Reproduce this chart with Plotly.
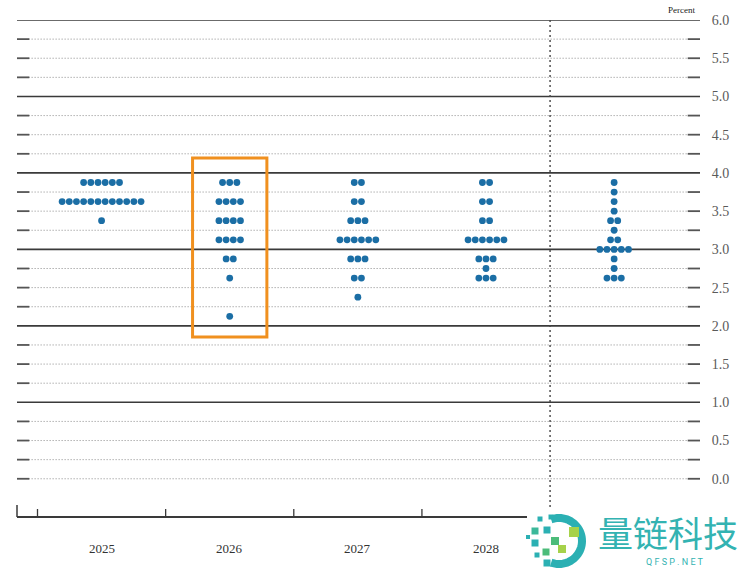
import plotly.graph_objects as go
import math

# ---------------- data ----------------
columns = ["2025", "2026", "2027", "2028", "Longer run"]

levels_2025 = [3.875, 3.625, 3.375]
counts_2025 = [6, 12, 1]

levels_2026 = [3.875, 3.625, 3.375, 3.125, 2.875, 2.625, 2.125]
counts_2026 = [3, 4, 4, 4, 2, 1, 1]

levels_2027 = [3.875, 3.625, 3.375, 3.125, 2.875, 2.625, 2.375]
counts_2027 = [2, 2, 3, 6, 3, 2, 1]

levels_2028 = [3.875, 3.625, 3.375, 3.125, 2.875, 2.75, 2.625]
counts_2028 = [2, 2, 2, 6, 3, 1, 3]

levels_lr = [3.875, 3.75, 3.625, 3.5, 3.375, 3.25, 3.125, 3.0, 2.875, 2.75, 2.625]
counts_lr = [1, 1, 1, 1, 2, 1, 2, 5, 1, 1, 3]

y_ticks = [0.0, 0.5, 1.0, 1.5, 2.0, 2.5, 3.0, 3.5, 4.0, 4.5, 5.0, 5.5, 6.0]

# ---------------- layout constants ----------------
W, H = 750, 570
ML, MR, MT, MB = 17, 50, 20, 53
XR = [-0.66, 4.67]
YR = [-0.5, 6.0]
PW = W - ML - MR
PH = H - MT - MB
DOT_STEP = 0.056
DOT_COLOR = "#1b6ea5"
SERIF = "Liberation Serif, Times New Roman, serif"


def px2paper(px, py):
    return (px - ML) / PW, (H - MB - py) / PH


series = [
    (levels_2025, counts_2025),
    (levels_2026, counts_2026),
    (levels_2027, counts_2027),
    (levels_2028, counts_2028),
    (levels_lr, counts_lr),
]

xs, ys = [], []
for j, (lv, ct) in enumerate(series):
    for level, n in zip(lv, ct):
        for k in range(n):
            xs.append(j + (k - (n - 1) / 2) * DOT_STEP)
            ys.append(level)

fig = go.Figure()
fig.add_trace(go.Scatter(
    x=xs, y=ys, mode="markers",
    marker=dict(color=DOT_COLOR, size=6.8, line=dict(width=0)),
    hoverinfo="skip", showlegend=False, cliponaxis=False,
))

shapes = []
# horizontal grid lines
q = 0.0
while q <= 6.0001:
    if abs(q - round(q)) < 1e-9 and q > 0.5:
        shapes.append(dict(type="line", xref="paper", yref="y", x0=0, x1=1, y0=q, y1=q,
                           line=dict(color="#3a3a3a", width=1.6), layer="below"))
    else:
        shapes.append(dict(type="line", xref="paper", yref="y", x0=0.017, x1=0.983, y0=q, y1=q,
                           line=dict(color="#8a8a8a", width=1, dash="1px,2px"), layer="below"))
        shapes.append(dict(type="line", xref="paper", yref="y", x0=0, x1=0.018, y0=q, y1=q,
                           line=dict(color="#555555", width=1.8), layer="below"))
        shapes.append(dict(type="line", xref="paper", yref="y", x0=0.982, x1=1, y0=q, y1=q,
                           line=dict(color="#555555", width=1.8), layer="below"))
    q += 0.25

# bottom axis line
shapes.append(dict(type="line", xref="paper", yref="paper", x0=0, x1=1, y0=0, y1=0,
                   line=dict(color="#3a3a3a", width=2)))
# left end tick
shapes.append(dict(type="line", xref="paper", yref="paper", x0=0, x1=0, y0=0, y1=12 / PH,
                   line=dict(color="#3a3a3a", width=1.5)))
# separators between columns
for sep in [-0.5, 0.5, 1.5, 2.5, 3.5]:
    shapes.append(dict(type="line", xref="x", yref="paper", x0=sep, x1=sep, y0=0, y1=8 / PH,
                       line=dict(color="#3a3a3a", width=1.3)))
# vertical dotted divider before longer run
shapes.append(dict(type="line", xref="x", yref="paper", x0=3.5, x1=3.5, y0=0, y1=1,
                   line=dict(color="#444444", width=1.4, dash="2px,3px"), layer="below"))
# orange highlight box around 2026
shapes.append(dict(type="rect", xref="x", yref="y", x0=1 - 0.29, x1=1 + 0.29, y0=1.855, y1=4.195,
                   line=dict(color="#f0901f", width=3), fillcolor="rgba(0,0,0,0)"))

# ---- watermark (white backing, logo, text) ----
bx0, by0 = px2paper(527, 575)
bx1, by1 = px2paper(755, 508)
shapes.append(dict(type="rect", xref="paper", yref="paper", x0=bx0, x1=bx1, y0=by0, y1=by1,
                   line=dict(width=0), fillcolor="white", layer="above"))

cx, cy, r = 559, 541, 23
pts = []
for a in range(-110, 111, 5):
    t = math.radians(a)
    pts.append(px2paper(cx + r * math.cos(t), cy + r * math.sin(t)))
path = "M " + " L ".join(f"{p[0]:.5f},{p[1]:.5f}" for p in pts)
shapes.append(dict(type="path", xref="paper", yref="paper", path=path,
                   line=dict(color="#2bb0b3", width=8)))

squares = [
    (540, 519, 5, "#2bb0b3"), (551, 517, 5, "#2bb0b3"),
    (535, 531, 7, "#3cb89a"), (547, 530, 7, "#2bb0b3"),
    (574, 532, 10, "#a6d24a"), (555, 541, 8, "#4cbc7a"),
    (535, 543, 7, "#2bb0b3"), (562, 549, 8, "#a6d24a"),
    (546, 552, 7, "#4cbc7a"), (537, 555, 5, "#2bb0b3"),
    (547, 563, 7, "#2bb0b3"), (528, 537, 4, "#2bb0b3"),
]
for sx, sy, s, c in squares:
    a0 = px2paper(sx - s / 2, sy + s / 2)
    a1 = px2paper(sx + s / 2, sy - s / 2)
    shapes.append(dict(type="rect", xref="paper", yref="paper", x0=a0[0], y0=a0[1], x1=a1[0], y1=a1[1],
                       line=dict(width=0), fillcolor=c))

annotations = []
for j, name in enumerate(columns[:4]):
    annotations.append(dict(x=j, y=0, xref="x", yref="paper", yshift=-31, text=name,
                            xanchor="center", yanchor="middle",
                            showarrow=False, font=dict(family=SERIF, size=13, color="#333333")))

annotations.append(dict(x=px2paper(697, 0)[0], y=1, xref="paper", yref="paper", yshift=3,
                        xanchor="right", yanchor="bottom", text="Percent", showarrow=False,
                        font=dict(family=SERIF, size=9, color="#222222")))

wx, wy = px2paper(668, 531)
annotations.append(dict(x=wx, y=wy, xref="paper", yref="paper", text="量链科技", showarrow=False,
                        xanchor="center", yanchor="middle",
                        font=dict(family="Noto Sans CJK SC", size=35, color="#33b3b2")))
qx, qy = px2paper(675, 562)
annotations.append(dict(x=qx, y=qy, xref="paper", yref="paper", text="Q F S P . N E T", showarrow=False,
                        xanchor="center", yanchor="middle",
                        font=dict(family="Roboto, Noto Sans, sans-serif", size=9, color="#33b3b2")))

fig.update_layout(
    width=W, height=H,
    margin=dict(l=ML, r=MR, t=MT, b=MB, pad=0),
    paper_bgcolor="white", plot_bgcolor="white",
    shapes=shapes, annotations=annotations,
    xaxis=dict(range=XR, showgrid=False, zeroline=False, showticklabels=False,
               showline=False, ticks="", fixedrange=True),
    yaxis=dict(range=YR, side="right", showgrid=False, zeroline=False, showline=False,
               tickvals=y_ticks, ticktext=[f"{v:.1f}" for v in y_ticks],
               ticks="outside", ticklen=8, tickcolor="rgba(0,0,0,0)",
               tickfont=dict(family=SERIF, size=14, color="#5a5a5a"), fixedrange=True),
    showlegend=False,
)

fig.write_html("out.html")
